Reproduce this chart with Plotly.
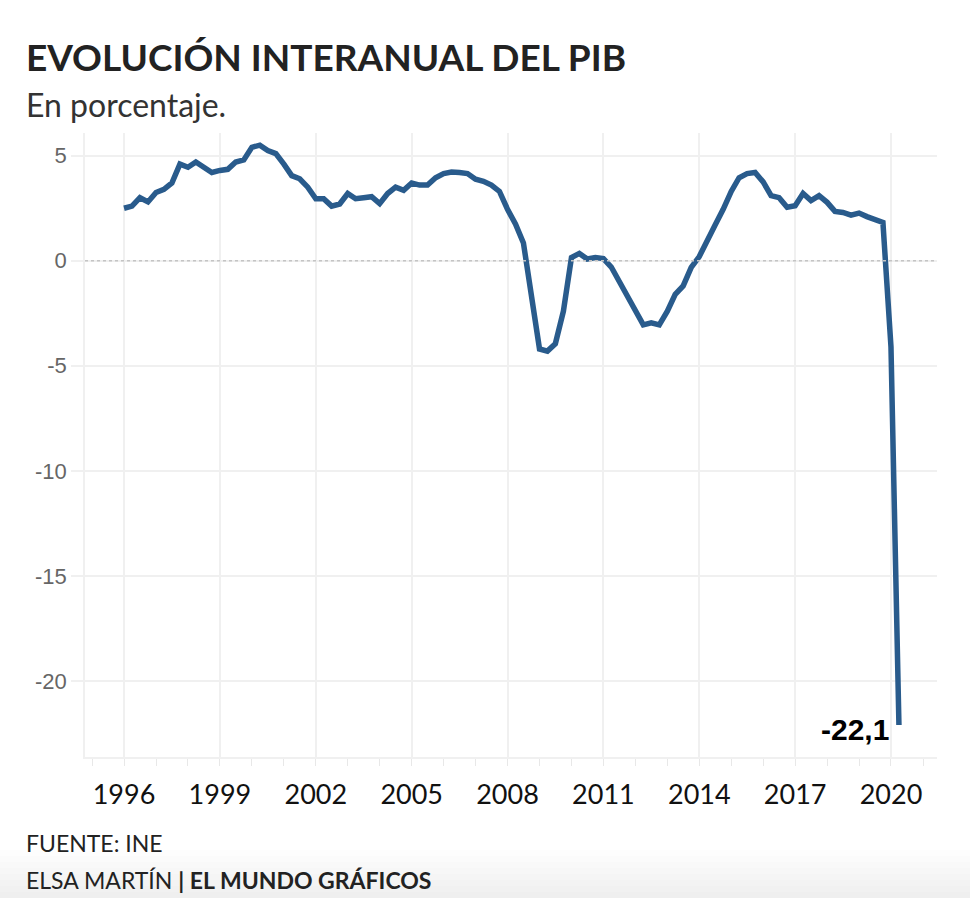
import pandas as pd
import plotly.graph_objects as go

# ---------------- data ----------------
start_quarter = "1996-01-01"
gdp_yoy = [
    2.5, 2.6, 3.0, 2.8,        # 1996
    3.25, 3.4, 3.7, 4.6,       # 1997
    4.45, 4.7, 4.45, 4.2,      # 1998
    4.3, 4.35, 4.7, 4.8,       # 1999
    5.4, 5.5, 5.25, 5.1,       # 2000
    4.6, 4.05, 3.9, 3.5,       # 2001
    2.95, 2.95, 2.6, 2.7,      # 2002
    3.2, 2.95, 3.0, 3.05,      # 2003
    2.72, 3.2, 3.5, 3.35,      # 2004
    3.7, 3.6, 3.6, 3.95,       # 2005
    4.15, 4.22, 4.2, 4.15,     # 2006
    3.88, 3.78, 3.6, 3.3,      # 2007
    2.45, 1.75, 0.85, -1.6,    # 2008
    -4.2, -4.3, -3.95, -2.4,   # 2009
    0.15, 0.35, 0.08, 0.15,    # 2010
    0.1, -0.3, -1.0, -1.65,    # 2011
    -2.35, -3.05, -2.95, -3.05,  # 2012
    -2.4, -1.6, -1.2, -0.32,   # 2013
    0.2, 1.0, 1.7, 2.45,       # 2014
    3.3, 3.95, 4.15, 4.2,      # 2015
    3.75, 3.1, 3.0, 2.55,      # 2016
    2.62, 3.2, 2.86, 3.1,      # 2017
    2.78, 2.35, 2.3, 2.17,     # 2018
    2.27, 2.1, 1.98, 1.82,     # 2019
    -4.1, -22.1,               # 2020
]
quarters = pd.date_range(start_quarter, periods=len(gdp_yoy), freq="QS")
year_ticks = list(range(1996, 2021, 3))
y_ticks = [5, 0, -5, -10, -15, -20]
last_label = "-22,1"

title = "EVOLUCIÓN INTERANUAL DEL PIB"
subtitle = "En porcentaje."
source = "FUENTE: INE"
credit = "ELSA MARTÍN <b>| EL MUNDO GRÁFICOS</b>"

# ---------------- layout helpers ----------------
W, H = 970, 898
L, R, T, B = 85, 33, 133, 141


def px(x):
    return (x - L) / (W - L - R)


def py(y):
    return (H - B - y) / (H - T - B)


LINE = "#295b8c"
GRID = "#f0f0f0"

fig = go.Figure()
fig.add_trace(go.Scatter(
    x=quarters, y=gdp_yoy, mode="lines",
    line=dict(color=LINE, width=5.5),
    hoverinfo="skip", showlegend=False,
))

fig.add_annotation(
    x=quarters[-1], y=gdp_yoy[-1], text=last_label, showarrow=False,
    xanchor="right", yanchor="middle", xshift=-8, yshift=-4,
    font=dict(family="Liberation Sans, Arial", size=30, color="#000", weight="bold"),
)

# texts
fig.add_annotation(xref="paper", yref="paper", x=px(24), y=py(56), text=title,
                   showarrow=False, xanchor="left", yanchor="middle",
                   font=dict(family="Lato", size=37, color="#222", weight="bold"))
fig.add_annotation(xref="paper", yref="paper", x=px(24), y=py(105), text=subtitle,
                   showarrow=False, xanchor="left", yanchor="middle",
                   font=dict(family="Lato", size=32, color="#333"))
fig.add_annotation(xref="paper", yref="paper", x=px(24), y=py(843), text=source,
                   showarrow=False, xanchor="left", yanchor="middle",
                   font=dict(family="Lato", size=23, color="#222"))
fig.add_annotation(xref="paper", yref="paper", x=px(24), y=py(880), text=credit,
                   showarrow=False, xanchor="left", yanchor="middle",
                   font=dict(family="Lato", size=23, color="#222"))

# dotted zero line
fig.add_shape(type="line", xref="paper", yref="y", x0=0, x1=1, y0=0, y1=0,
              line=dict(color="#c4c4c4", width=1.5, dash="dot"))

# soft gradient at the bottom
for k in range(8):
    y0 = 850 + k * 6
    fig.add_shape(type="rect", xref="paper", yref="paper", layer="below",
                  x0=px(0), x1=px(W), y0=py(y0), y1=py(H),
                  fillcolor="rgba(0,0,0,0.007)", line=dict(width=0))

fig.update_xaxes(
    type="date",
    range=["1994-10-12", "2021-06-10"],
    tickvals=[f"{y}-01-01" for y in year_ticks],
    ticktext=[str(y) for y in year_ticks],
    showgrid=True, gridcolor=GRID, gridwidth=1.5,
    showline=True, linecolor=GRID, linewidth=1.5,
    ticks="outside", ticklen=7, tickcolor="#e8e8e8", tickwidth=1,
    minor=dict(ticks="outside", ticklen=7, tickcolor="#e8e8e8", dtick="M12",
               tick0="1996-01-01", showgrid=False),
    tickfont=dict(family="Lato", size=27, color="#111"),
    ticklabelstandoff=6,
    zeroline=False,
)
fig.update_yaxes(
    range=[-23.62, 6.08],
    tickvals=y_ticks, ticktext=[str(v) for v in y_ticks],
    showgrid=True, gridcolor=GRID, gridwidth=1.5,
    showline=True, linecolor=GRID, linewidth=1.5,
    ticks="outside", ticklen=12, tickcolor=GRID, tickwidth=1.5,
    tickfont=dict(family="Liberation Sans, Arial", size=22, color="#666"),
    zeroline=False,
)

fig.update_layout(
    width=W, height=H,
    margin=dict(l=L, r=R, t=T, b=B, pad=0),
    paper_bgcolor="white", plot_bgcolor="white",
)

fig.write_html("out.html")
